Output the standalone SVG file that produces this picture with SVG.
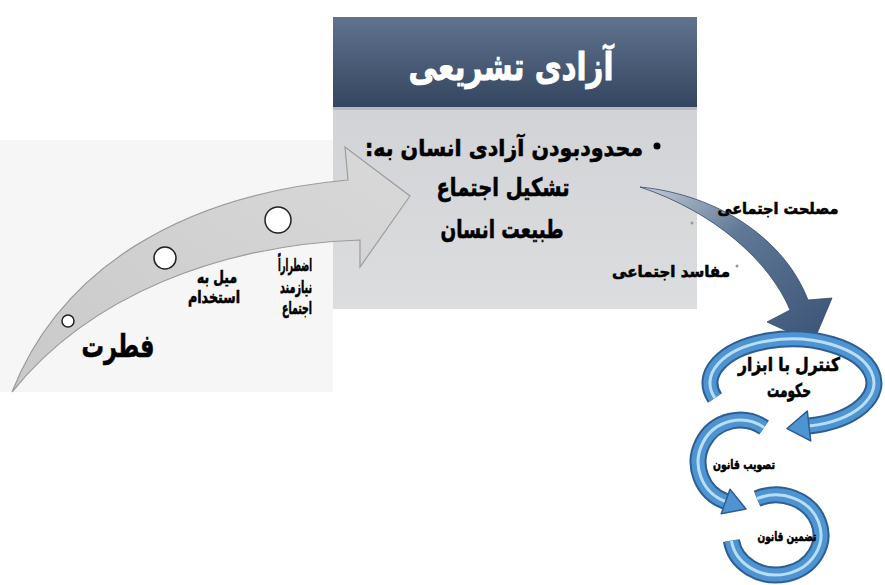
<svg xmlns="http://www.w3.org/2000/svg" width="885" height="585" viewBox="0 0 885 585">
<defs>
<linearGradient id="hdr" x1="0" y1="0" x2="0" y2="1">
<stop offset="0" stop-color="#61728f"/>
<stop offset="1" stop-color="#34455f"/>
</linearGradient>
<linearGradient id="body" x1="0" y1="0" x2="0" y2="1">
<stop offset="0" stop-color="#d2d3d6"/>
<stop offset="1" stop-color="#dcdddf"/>
</linearGradient>
<linearGradient id="garrow" x1="0" y1="1" x2="1" y2="0">
<stop offset="0" stop-color="#c9c9c9"/>
<stop offset="1" stop-color="#d9d9d9"/>
</linearGradient>
<linearGradient id="barrow" x1="0" y1="0" x2="1" y2="1">
<stop offset="0" stop-color="#c5cdd8"/>
<stop offset="0.4" stop-color="#5f7896"/>
<stop offset="1" stop-color="#3a5275"/>
</linearGradient>
<style>
.t{font-family:"DejaVu Sans","Noto Sans",sans-serif;font-weight:bold;fill:#000;stroke:#000;stroke-width:0.6;text-anchor:middle;direction:rtl;unicode-bidi:embed}
.w{fill:#fff;stroke:#fff;stroke-width:0.9}
.ro{fill:none;stroke:#2d5f92;stroke-width:17}
.rm{fill:none;stroke:#4e94d2;stroke-width:13}
.rh{fill:none;stroke:#b9def5;stroke-width:3}
.ah{fill:#4e94d2;stroke:#2d5f92;stroke-width:1.5;stroke-linejoin:round}
.dot{fill:#fff;stroke:#222;stroke-width:1.5}
</style>
</defs>
<rect x="0" y="140" width="333" height="252" fill="#f6f6f6"/>
<g id="box">
<rect x="333" y="107" width="364" height="202" fill="url(#body)"/>
<rect x="333" y="17" width="364" height="91" fill="url(#hdr)"/>
<rect x="333" y="107" width="364" height="3" fill="#b9babd"/>
<text class="t w" x="511" y="80" font-size="38" textLength="205" lengthAdjust="spacingAndGlyphs">آزادی تشریعی</text>
<circle cx="657" cy="146" r="3.5" fill="#000"/>
<text x="504" y="156" font-size="23" class="t" direction="rtl" textLength="278" lengthAdjust="spacingAndGlyphs">محدودبودن آزادی انسان به:</text>
<text class="t" x="503" y="196" font-size="25" textLength="133" lengthAdjust="spacingAndGlyphs">تشکیل اجتماع</text>
<text class="t" x="502" y="238" font-size="25" textLength="123" lengthAdjust="spacingAndGlyphs">طبیعت انسان</text>
</g>
<g id="connectors">
<path id="fitra-arrow" d="M12,392 C60,270 180,195 348,180 L345,147 L410,196 L360,267 L360,240 C220,245 90,295 12,392 Z" fill="url(#garrow)" stroke="#9c9c9c" stroke-width="1.2"/>
<path id="gov-arrow" d="M640,187 C720,195 785,240 808,300 L832,298 L813,343 L767,322 L790,310 C770,262 715,212 640,187 Z" fill="url(#barrow)" stroke="#34496a" stroke-width="0.8"/>
</g>
<g id="steps">
<circle class="dot" cx="68" cy="321" r="6"/>
<circle class="dot" cx="165" cy="258" r="11"/>
<circle class="dot" cx="278" cy="220" r="13"/>
<text class="t" x="118" y="357" font-size="32" textLength="73" lengthAdjust="spacingAndGlyphs">فطرت</text>
<text class="t" x="217" y="283" font-size="17" textLength="40" lengthAdjust="spacingAndGlyphs">میل به</text>
<text class="t" x="214" y="303" font-size="17" textLength="52" lengthAdjust="spacingAndGlyphs">استخدام</text>
<text class="t" x="295" y="271" font-size="17" textLength="34" lengthAdjust="spacingAndGlyphs">اضطراراً</text>
<text class="t" x="296" y="293" font-size="17" textLength="32" lengthAdjust="spacingAndGlyphs">نیازمند</text>
<text class="t" x="297" y="314" font-size="17" textLength="30" lengthAdjust="spacingAndGlyphs">اجتماع</text>
</g>
<g id="effects">
<circle cx="692" cy="223" r="1.5" fill="#999"/>
<circle cx="737" cy="266" r="1.5" fill="#999"/>
<text class="t" x="778" y="214" font-size="16" textLength="121" lengthAdjust="spacingAndGlyphs">مصلحت اجتماعی</text>
<text class="t" x="671" y="277" font-size="16" textLength="118" lengthAdjust="spacingAndGlyphs">مفاسد اجتماعی</text>
</g>
<g id="ring-control">
<path class="ro" d="M714.9,398 A82,44 0 1 1 809,426"/>
<path class="rm" d="M714.9,398 A82,44 0 1 1 809,426"/>
<path class="rh" d="M714.9,398 A82,44 0 1 1 809,426"/>
<polygon class="ah" points="787,428.5 807.3,411.1 810.7,440.9"/>
<text class="t" x="789" y="371" font-size="19" textLength="102" lengthAdjust="spacingAndGlyphs">کنترل با ابزار</text>
<text class="t" x="789" y="397" font-size="19" textLength="44" lengthAdjust="spacingAndGlyphs">حکومت</text>
</g>
<g id="ring-enact">
<path class="ro" d="M764.1,427.6 A42,42 0 1 0 725.6,501.5"/>
<path class="rm" d="M764.1,427.6 A42,42 0 1 0 725.6,501.5"/>
<path class="rh" d="M764.1,427.6 A42,42 0 1 0 725.6,501.5"/>
<polygon class="ah" points="746,509 730,489.3 721.2,513.7"/>
<text class="t" x="744" y="469" font-size="13" textLength="62" lengthAdjust="spacingAndGlyphs">تصویب قانون</text>
</g>
<g id="ring-guarantee">
<path class="ro" d="M757,498.7 A45,40 0 1 1 731.4,540.6"/>
<path class="rm" d="M757,498.7 A45,40 0 1 1 731.4,540.6"/>
<path class="rh" d="M757,498.7 A45,40 0 1 1 731.4,540.6"/>
<text class="t" x="787" y="541" font-size="13" textLength="59" lengthAdjust="spacingAndGlyphs">تضمین قانون</text>
</g>
</svg>
